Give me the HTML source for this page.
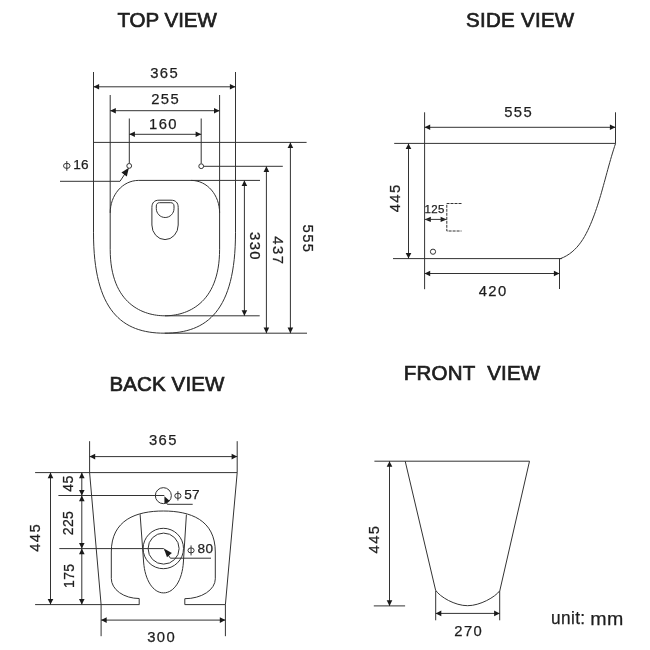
<!DOCTYPE html>
<html><head><meta charset="utf-8"><style>
html,body{margin:0;padding:0;background:#fff;width:650px;height:650px;overflow:hidden}
svg{display:block;will-change:transform}
svg *{fill:none;stroke:#333;stroke-width:1}
svg .a{fill:#1a1a1a;stroke:none}
svg text{fill:#1e1e1e;stroke:#1e1e1e;stroke-width:0.25px;font-family:"Liberation Sans",sans-serif;text-anchor:middle}
svg .t{font-size:20.5px;stroke:#1e1e1e;stroke-width:0.7px}
svg .d{font-size:14.8px;letter-spacing:1.4px}
svg .m{font-size:14px;letter-spacing:0.4px}
svg .s{font-size:11.5px;letter-spacing:0.3px}
svg .p{font-size:13.6px;letter-spacing:0.3px}
svg .u{font-size:18px;letter-spacing:0.4px}
</style></head><body>
<svg width="650" height="650" viewBox="0 0 650 650">
<path d="M93.5,72V232.8C93.5,310.8 122.0,333.2 164.5,333.2C207,333.2 235.5,310.8 235.5,232.8V72"/>
<path d="M110.2,95V249.3C110.2,305 144.2,315.8 164.9,315.8C185.6,315.8 219.6,305 219.6,249.3V95"/>
<path d="M110.2,212.9C110.2,195.2 122.4,180.4 138.7,180.4H260"/>
<path d="M219.6,212.9C219.6,195.2 207.4,180.4 191.1,180.4"/>
<line x1="129.3" y1="118.5" x2="129.3" y2="163.2"/>
<line x1="201.2" y1="118.5" x2="201.2" y2="163.5"/>
<circle cx="129.2" cy="165.9" r="2.4"/>
<circle cx="201.2" cy="166.2" r="2.4"/>
<line x1="93.5" y1="86.8" x2="235.5" y2="86.8"/>
<path class="a" d="M93.50,86.80L99.10,84.00L99.10,89.60Z"/>
<path class="a" d="M235.50,86.80L229.90,89.60L229.90,84.00Z"/>
<line x1="110.2" y1="110.7" x2="219.6" y2="110.7"/>
<path class="a" d="M110.20,110.70L115.80,107.90L115.80,113.50Z"/>
<path class="a" d="M219.60,110.70L214.00,113.50L214.00,107.90Z"/>
<line x1="129.3" y1="134.3" x2="201.2" y2="134.3"/>
<path class="a" d="M129.30,134.30L134.90,131.50L134.90,137.10Z"/>
<path class="a" d="M201.20,134.30L195.60,137.10L195.60,131.50Z"/>
<line x1="93.5" y1="142.4" x2="306.6" y2="142.4"/>
<line x1="203.9" y1="166.3" x2="282.8" y2="166.3"/>
<line x1="164.9" y1="315.8" x2="259.7" y2="315.8"/>
<line x1="164.5" y1="333.2" x2="307" y2="333.2"/>
<line x1="244.4" y1="180.4" x2="244.4" y2="315.8"/>
<path class="a" d="M244.40,180.40L247.20,186.00L241.60,186.00Z"/>
<path class="a" d="M244.40,315.80L241.60,310.20L247.20,310.20Z"/>
<line x1="266.4" y1="166.3" x2="266.4" y2="333.2"/>
<path class="a" d="M266.40,166.30L269.20,171.90L263.60,171.90Z"/>
<path class="a" d="M266.40,333.20L263.60,327.60L269.20,327.60Z"/>
<line x1="290.4" y1="142.4" x2="290.4" y2="333.2"/>
<path class="a" d="M290.40,142.40L293.20,148.00L287.60,148.00Z"/>
<path class="a" d="M290.40,333.20L287.60,327.60L293.20,327.60Z"/>
<path d="M60,181.3H120L125.5,173"/>
<path class="a" d="M128.90,167.80L126.81,176.39L121.44,172.55Z"/>
<ellipse cx="66.8" cy="165.85" rx="3.3" ry="2.55"/>
<line x1="66.8" y1="161.0" x2="66.8" y2="170.7"/>
<path d="M151.9,225V207.5C151.9,202.5 154.5,200.2 159,200.2H171C175.5,200.2 178.2,202.5 178.2,207.5V225A13.15,14.6 0 0 1 165.05,239.6A13.15,14.6 0 0 1 151.9,225Z"/>
<path d="M156.3,206C156.3,204 157.5,202.7 159.5,202.7H170.8C172.8,202.7 174,204 174,206V208.5C174,213.5 170,217.5 165.15,217.5C160.3,217.5 156.3,213.5 156.3,208.5Z"/>
<line x1="424.6" y1="112.3" x2="424.6" y2="289.2"/>
<line x1="615.5" y1="112.3" x2="615.5" y2="143.4"/>
<line x1="424.6" y1="127.3" x2="615.5" y2="127.3"/>
<path class="a" d="M424.60,127.30L430.20,124.50L430.20,130.10Z"/>
<path class="a" d="M615.50,127.30L609.90,130.10L609.90,124.50Z"/>
<line x1="394.2" y1="143.4" x2="615.5" y2="143.4"/>
<path d="M615.60,143.40 L614.53,146.60 L613.50,149.80 L612.50,153.03 L611.53,156.26 L610.59,159.50 L609.66,162.75 L608.75,166.01 L607.85,169.28 L606.96,172.55 L606.07,175.82 L605.19,179.10 L604.29,182.38 L603.39,185.65 L602.48,188.92 L601.55,192.19 L600.61,195.46 L599.63,198.71 L598.63,201.96 L597.60,205.20 L596.53,208.43 L595.42,211.65 L594.27,214.86 L593.06,218.04 L591.81,221.22 L590.50,224.37 L589.12,227.50 L587.67,230.59 L586.13,233.62 L584.50,236.57 L582.76,239.43 L580.90,242.19 L578.92,244.83 L576.79,247.33 L574.51,249.68 L572.08,251.86 L569.47,253.86 L566.67,255.66 L563.69,257.25 L560.50,258.60 L559.5,258.6"/>
<line x1="393" y1="258.6" x2="561.9" y2="258.6"/>
<line x1="559.5" y1="258.6" x2="559.5" y2="289"/>
<line x1="408.5" y1="143.4" x2="408.5" y2="258.6"/>
<path class="a" d="M408.50,143.40L411.30,149.00L405.70,149.00Z"/>
<path class="a" d="M408.50,258.60L405.70,253.00L411.30,253.00Z"/>
<line x1="424.6" y1="273.5" x2="559.5" y2="273.5"/>
<path class="a" d="M424.60,273.50L430.20,270.70L430.20,276.30Z"/>
<path class="a" d="M559.50,273.50L553.90,276.30L553.90,270.70Z"/>
<g stroke-width="1.6">
<path class="a" d="M424.80,219.40L430.80,216.80L430.80,222.00Z"/>
<path class="a" d="M446.60,219.40L440.60,222.00L440.60,216.80Z"/>
</g>
<line x1="424.6" y1="219.4" x2="446.6" y2="219.4" stroke-width="1.6"/>
<path d="M461.5,203.5H446.8V231H461.5" stroke="#8a8a8a" stroke-dasharray="3,1"/>
<circle cx="433" cy="251.7" r="2.6"/>
<line x1="89.6" y1="441.2" x2="89.6" y2="472.6"/>
<line x1="237.2" y1="441.2" x2="237.2" y2="472.6"/>
<line x1="89.6" y1="456.6" x2="237.2" y2="456.6"/>
<path class="a" d="M89.60,456.60L95.20,453.80L95.20,459.40Z"/>
<path class="a" d="M237.20,456.60L231.60,459.40L231.60,453.80Z"/>
<line x1="35.1" y1="472.6" x2="237.2" y2="472.6"/>
<path d="M89.6,472.6L101.1,604.6"/>
<path d="M237.2,472.6L225.4,604.6"/>
<line x1="101.1" y1="604.6" x2="101.1" y2="636.2"/>
<line x1="225.4" y1="604.6" x2="225.4" y2="636.2"/>
<line x1="101.1" y1="620.1" x2="225.4" y2="620.1"/>
<path class="a" d="M101.10,620.10L106.70,617.30L106.70,622.90Z"/>
<path class="a" d="M225.40,620.10L219.80,622.90L219.80,617.30Z"/>
<line x1="35.1" y1="604.6" x2="139.4" y2="604.6"/>
<line x1="184.8" y1="604.6" x2="225.4" y2="604.6"/>
<line x1="58.4" y1="495.5" x2="164.3" y2="495.5"/>
<line x1="59.3" y1="548.6" x2="163.8" y2="548.6"/>
<line x1="50.5" y1="472.6" x2="50.5" y2="604.6"/>
<path class="a" d="M50.50,472.60L53.30,478.20L47.70,478.20Z"/>
<path class="a" d="M50.50,604.60L47.70,599.00L53.30,599.00Z"/>
<line x1="81.8" y1="472.6" x2="81.8" y2="495.6"/>
<path class="a" d="M81.80,472.60L84.60,478.20L79.00,478.20Z"/>
<path class="a" d="M81.80,495.60L79.00,490.00L84.60,490.00Z"/>
<line x1="81.8" y1="495.6" x2="81.8" y2="548.6"/>
<path class="a" d="M81.80,495.60L84.60,501.20L79.00,501.20Z"/>
<path class="a" d="M81.80,548.60L79.00,543.00L84.60,543.00Z"/>
<line x1="81.8" y1="548.6" x2="81.8" y2="604.6"/>
<path class="a" d="M81.80,548.60L84.60,554.20L79.00,554.20Z"/>
<path class="a" d="M81.80,604.60L79.00,599.00L84.60,599.00Z"/>
<circle cx="163.35" cy="495.65" r="8.0"/>
<path d="M165.9,501.3L167.3,504.3H192.7"/>
<path class="a" d="M164.40,496.30L169.76,500.99L164.49,503.42Z"/>
<ellipse cx="177.9" cy="495.85" rx="3.15" ry="2.55"/>
<line x1="177.9" y1="491.15000000000003" x2="177.9" y2="500.55"/>
<path d="M139.2,604.6V598.5A27.9,20 0 0 1 111.3,578.5V552C111.3,519.7 136.4,511 163.3,511C190.2,511 215.3,519.7 215.3,552V578.8A30.5,19.9 0 0 1 184.8,598.7V604.6"/>
<path d="M140.1,514.2L143.6,562C144.9,580 153,592.9 163.6,592.9C174.2,592.9 182.3,580 183.4,562L186.4,514.6"/>
<circle cx="163.3" cy="548.5" r="20.2"/>
<circle cx="163.6" cy="548.6" r="15.5"/>
<path d="M170.4,558.2H211"/>
<path d="M164.5,549.6L170.4,558.2"/>
<path class="a" d="M163.90,548.60L171.86,552.98L166.99,557.14Z"/>
<ellipse cx="191.05" cy="550.4" rx="3.1" ry="2.5"/>
<line x1="191.05" y1="545.4" x2="191.05" y2="555.4"/>
<line x1="374.4" y1="461.2" x2="529.5" y2="461.2"/>
<path d="M405.2,461.2L435.6,590.2C440,597 455,605.7 467.6,605.7C480,605.7 495.3,597 499.8,590.7L529.5,461.2"/>
<line x1="373.8" y1="605.9" x2="405.1" y2="605.9"/>
<line x1="389.5" y1="461.2" x2="389.5" y2="605.9"/>
<path class="a" d="M389.50,461.20L392.30,466.80L386.70,466.80Z"/>
<path class="a" d="M389.50,605.90L386.70,600.30L392.30,600.30Z"/>
<line x1="435.7" y1="590.7" x2="435.7" y2="620.3"/>
<line x1="499.7" y1="590.7" x2="499.7" y2="620.3"/>
<line x1="435.7" y1="613.4" x2="499.7" y2="613.4"/>
<path class="a" d="M435.70,613.40L441.30,610.60L441.30,616.20Z"/>
<path class="a" d="M499.70,613.40L494.10,616.20L494.10,610.60Z"/>
<text class="t" x="167.17" y="26.69">TOP VIEW</text>
<text class="d" x="164.67" y="77.66">365</text>
<text class="d" x="165.66" y="103.64">255</text>
<text class="d" x="163.45" y="129.36">160</text>
<text class="d" x="255.36" y="251.32" transform="rotate(90 255.20 246.40)">330</text>
<text class="d" x="279.12" y="254.56" transform="rotate(90 278.10 249.80)">437</text>
<text class="d" x="308.95" y="243.72" transform="rotate(90 308.45 238.50)">555</text>
<text class="p" x="81.01" y="168.97">16</text>
<text class="t" x="520.29" y="27.05" style="letter-spacing:0.28px">SIDE VIEW</text>
<text class="d" x="518.67" y="116.66">555</text>
<text class="d" x="395.41" y="203.46" transform="rotate(-90 394.65 198.60)">445</text>
<text class="d" x="493.12" y="295.51">420</text>
<text class="s" x="434.65" y="213.00">125</text>
<text class="t" x="166.99" y="391.28" style="letter-spacing:0.13px">BACK VIEW</text>
<text class="d" x="163.34" y="445.23">365</text>
<text class="d" x="161.65" y="642.15">300</text>
<text class="d" x="36.32" y="543.53" transform="rotate(-90 35.20 538.45)">445</text>
<text class="m" x="68.45" y="488.58" transform="rotate(-90 67.95 484.00)">45</text>
<text class="m" x="68.03" y="527.63" transform="rotate(-90 67.95 523.05)">225</text>
<text class="m" x="69.04" y="580.89" transform="rotate(-90 69.10 575.65)">175</text>
<text class="p" x="192.13" y="499.18">57</text>
<text class="p" x="205.46" y="553.20">80</text>
<text class="t" x="472.12" y="379.69" style="letter-spacing:0.2px">FRONT&#160;&#160;VIEW</text>
<text class="d" x="375.54" y="545.11" transform="rotate(-90 374.40 540.15)">445</text>
<text class="d" x="468.80" y="635.53">270</text>
<text class="u" x="568.28" y="624.12" textLength="34.5" lengthAdjust="spacingAndGlyphs">unit:</text>
<text class="u" x="607.14" y="624.76" textLength="33.5" lengthAdjust="spacingAndGlyphs">mm</text>
</svg>
</body></html>
